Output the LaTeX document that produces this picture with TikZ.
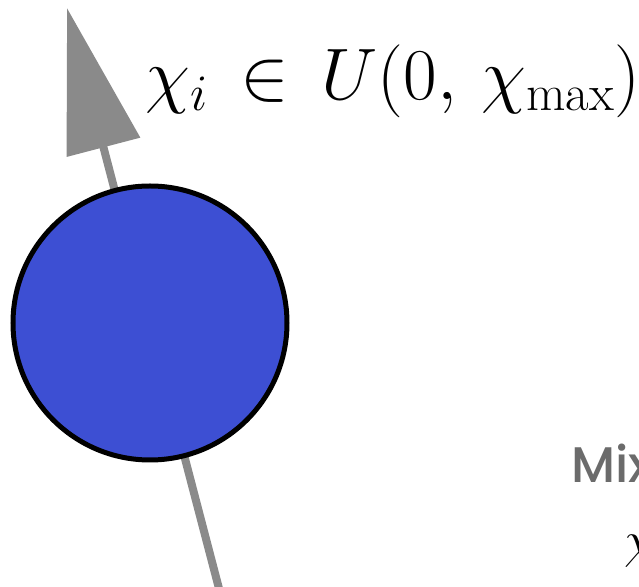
\RequirePackage{fix-cm}
\documentclass[tikz,border=0pt]{standalone}
\usepackage{fontspec}
\usepackage{amsmath}
\usepackage{tikz}
\usetikzlibrary{arrows.meta, positioning}
\newfontfamily\labelfont{Poppins}[UprightFont=* Medium]
\definecolor{ballblue}{HTML}{3D4FD3}
\definecolor{spingray}{HTML}{8A8A8A}
\definecolor{textgray}{HTML}{6B6B6B}

\begin{document}
\begin{tikzpicture}[x=0.5pt, y=-0.5pt,
  spinaxis/.style={draw=spingray, line width=4pt, -{Triangle[length=72pt, width=37pt]}},
  ball/.style={circle, draw=black, line width=2.5pt, fill=ballblue, minimum size=137pt, inner sep=0pt}]
\useasboundingbox (0,0) rectangle (639,587);
% spin axis and arrow tip
\coordinate (tail) at (222,600);
\coordinate (tip) at (67,8);
\draw[spinaxis] (tail) -- (tip);
% the particle
\node[ball] (particle) at (150,323) {};
% labels
\node[anchor=base west, inner sep=0pt, font=\fontsize{36.5}{42}\selectfont] (law) at (145,100)
  {$\chi_i \,\in\, U(0,\,\chi_{\max})$};
\node[anchor=base west, inner sep=0pt, text=textgray, font=\labelfont\fontsize{25}{30}\selectfont] (mix) at (571,483) {Mix};
\node[anchor=base west, inner sep=0pt, font=\fontsize{26}{30}\selectfont] (chiout) at (624,558) {$\chi$};
\end{tikzpicture}
\end{document}
